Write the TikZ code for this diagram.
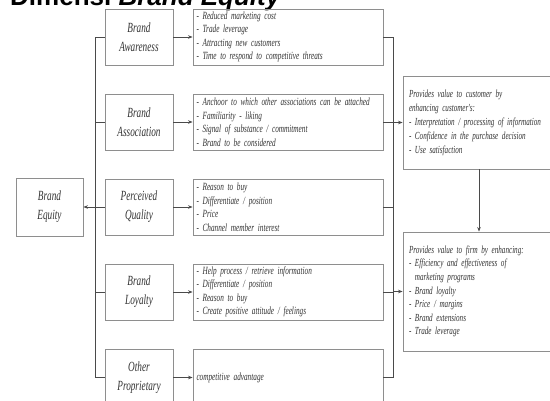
\documentclass[tikz,border=0pt]{standalone}
\usepackage{fontspec}
\setmainfont{Liberation Serif}
\newfontfamily\condfam{Liberation Serif}[FakeStretch=0.66]
\newfontfamily\titlefont{Liberation Sans}
\usetikzlibrary{arrows.meta}
\definecolor{boxgray}{HTML}{8E8E8E}
\definecolor{conncol}{HTML}{4A4A4A}
\definecolor{txt}{HTML}{333333}
\tikzset{
  concept/.style={draw=boxgray, line width=0.9pt, minimum width=68pt, minimum height=56pt,
    inner sep=0pt, align=center, text=txt, font=\condfam\itshape\fontsize{14}{19}\selectfont},
  listbox/.style={draw=boxgray, line width=0.9pt, minimum height=56pt, text width=183pt,
    inner xsep=3.5pt, inner ysep=0pt, align=left, text=txt, font=\condfam\itshape\fontsize{11}{13.5}\selectfont},
  valuebox/.style={draw=boxgray, line width=0.9pt, text width=170pt,
    inner xsep=6pt, inner ysep=0pt, align=left, text=txt},
  conn/.style={draw=conncol, line width=0.8pt},
  arr/.style={conn, -{Stealth[length=4.5pt,width=3.6pt]}}
}
\begin{document}
\begin{tikzpicture}[x=1pt,y=-1pt]
\useasboundingbox (0,0) rectangle (550,401);
\fill[white] (0,0) rectangle (550,401);
\clip (0,0) rectangle (550,401);

\node[anchor=base west, inner sep=0pt, font=\titlefont\bfseries\fontsize{26}{26}\selectfont, text=black] (title) at (10,6) {Dimensi \textit{Brand Equity}};

% concept boxes
\node[concept] (aw) at (139,37) {Brand\\Awareness};
\node[concept] (as) at (139,122) {Brand\\Association};
\node[concept] (pq) at (139,207) {Perceived\\Quality};
\node[concept] (bl) at (139,292) {Brand\\Loyalty};
\node[concept, minimum height=57pt] (op) at (139,377.5) {Other\\Proprietary};
\node[concept, minimum width=67pt, minimum height=58pt] (be) at (49.5,207) {Brand\\Equity};

% list boxes
\node[listbox] (la) at (288,37) {- Reduced marketing cost\\- Trade leverage\\- Attracting new customers\\- Time to respond to competitive threats};
\node[listbox] (ls) at (288,122) {- Anchoor to which other associations can be attached\\- Familiarity - liking\\- Signal of substance / commitment\\- Brand to be considered};
\node[listbox] (lq) at (288,207) {- Reason to buy\\- Differentiate / position\\- Price\\- Channel member interest};
\node[listbox] (ll) at (288,292) {- Help process / retrieve information\\- Differentiate / position\\- Reason to buy\\- Create positive attitude / feelings};
\node[listbox, minimum height=57pt] (lo) at (288,377.5) {competitive advantage};

% value boxes
\node[valuebox, minimum height=93pt, font=\condfam\itshape\fontsize{10.8}{14}\selectfont] (cust) at (494,122.5) {Provides value to customer by\\enhancing customer's:\\- Interpretation / processing of information\\- Confidence in the purchase decision\\- Use satisfaction};
\node[valuebox, minimum height=119pt, font=\condfam\itshape\fontsize{10.8}{13.6}\selectfont] (firm) at (494,291.5) {Provides value to firm by enhancing:\\- Efficiency and effectiveness of\\\phantom{- }marketing programs\\- Brand loyalty\\- Price / margins\\- Brand extensions\\- Trade leverage};

\coordinate (lbus) at (95,0);
\coordinate (rbus) at (393,0);

% left bus
\draw[conn] (aw.west) -- (aw.west -| lbus) -- (op.west -| lbus) -- (op.west);
\draw[conn] (as.west -| lbus) -- (as.west);
\draw[conn] (pq.west -| lbus) -- (pq.west);
\draw[conn] (bl.west -| lbus) -- (bl.west);
\draw[arr] (be.east -| lbus) -- (be.east);

% concept -> list
\draw[arr] (aw.east) -- (la.west);
\draw[arr] (as.east) -- (ls.west);
\draw[arr] (pq.east) -- (lq.west);
\draw[arr] (bl.east) -- (ll.west);
\draw[arr] (op.east) -- (lo.west);

% right bus
\draw[conn] (la.east) -- (la.east -| rbus) -- (lo.east -| rbus) -- (lo.east);
\draw[conn] (ls.east) -- (ls.east -| rbus);
\draw[conn] (lq.east) -- (lq.east -| rbus);
\draw[conn] (ll.east) -- (ll.east -| rbus);
\draw[arr] (cust.west -| rbus) -- (cust.west);
\draw[arr] (firm.west -| rbus) -- (firm.west);

% customer -> firm
\draw[arr] ([xshift=-15pt]cust.south) -- ([xshift=-15pt]firm.north);
\end{tikzpicture}
\end{document}
